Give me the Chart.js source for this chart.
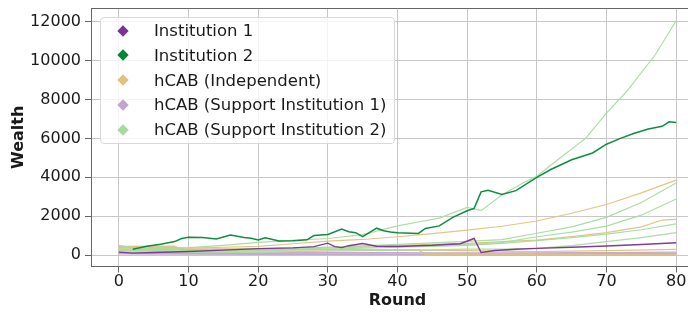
<!DOCTYPE html>
<html>
<head>
<meta charset="utf-8">
<script src="https://cdn.jsdelivr.net/npm/chart.js@4.4.0/dist/chart.umd.min.js"></script>
<style>
  html, body { margin: 0; padding: 0; background: #fff; }
  .wrap { position: relative; width: 688px; height: 312px; overflow: hidden; }
  .box { position: absolute; left: 0; top: 0; width: 720px; height: 312px; }
  .legend {
    position: absolute; left: 100px; top: 17px; width: 295px; height: 127px;
    margin: 0; padding: 0; list-style: none; box-sizing: border-box;
    border: 1px solid #d9d9d9; border-radius: 4px; background: rgba(255,255,255,0.8);
    font-family: "DejaVu Sans", sans-serif; font-size: 16.5px; color: #1a1a1a;
  }
  .legend li { position: absolute; left: 0; height: 20px; line-height: 20px; white-space: nowrap; }
  .legend .mark { position: absolute; left: 18px; top: 5.5px; width: 8px; height: 8px; transform: rotate(45deg); }
  .legend .txt { position: absolute; left: 53px; top: 0; }
</style>
</head>
<body>
<div class="wrap">
  <div class="box"><canvas id="chart" width="720" height="312"></canvas></div>
  <ul class="legend" id="legend"></ul>
</div>
<script>
const xTicks = [0, 10, 20, 30, 40, 50, 60, 70, 80];
const yTicks = [0, 2000, 4000, 6000, 8000, 10000, 12000];

const legendLabels = ['Institution 1', 'Institution 2', 'hCAB (Independent)', 'hCAB (Support Institution 1)', 'hCAB (Support Institution 2)'];
const legendColors = ['#7b3294', '#008837', '#dfc27d', '#c2a5cf', '#a6dba0'];

const inst1Rounds = [0, 2, 5, 10, 15, 20, 25, 28, 30, 31, 32, 33, 35, 37, 40, 45, 49, 51, 52, 54, 57, 60, 65, 70, 75, 80];
const inst1Wealth = [150, 100, 130, 180, 250, 330, 370, 430, 610, 430, 380, 480, 590, 450, 440, 500, 580, 850, 130, 230, 300, 343, 400, 463, 540, 630];

const inst2Rounds = [2, 4, 6, 8, 9, 10, 12, 14, 16, 18, 19, 20, 21, 23, 25, 27, 28, 30, 32, 33, 34, 35, 37, 38, 39, 40, 43, 44, 46, 48, 50, 51, 52, 53, 55, 57, 60, 62, 65, 68, 70, 72, 74, 76, 78, 79, 80];
const inst2Wealth = [300, 450, 560, 690, 850, 920, 900, 830, 1030, 900, 860, 780, 890, 720, 740, 780, 1000, 1060, 1340, 1200, 1150, 950, 1380, 1250, 1180, 1150, 1110, 1370, 1500, 1950, 2280, 2400, 3250, 3330, 3120, 3310, 3990, 4400, 4900, 5250, 5700, 6000, 6260, 6480, 6620, 6850, 6820];

const agentRounds = [0, 5, 10, 15, 20, 25, 30, 35, 40, 45, 50, 55, 60, 65, 70, 75, 80];

const indepRounds = [
  agentRounds,
  [0, 5, 10, 20, 30, 40, 50, 55, 60, 65, 70, 75, 78, 80],
  [0, 8, 9, 20, 30, 40, 50, 60, 70, 80],
  [0, 8, 9, 20, 30, 43, 44, 80]
];
const indepWealth = [
  [320, 330, 350, 400, 450, 580, 720, 800, 940, 1100, 1280, 1480, 1750, 2150, 2600, 3200, 3850],
  [250, 280, 300, 330, 400, 500, 600, 690, 770, 950, 1150, 1450, 1800, 1830],
  [450, 460, 300, 280, 260, 250, 230, 180, 230, 290],
  [380, 400, 250, 270, 280, 260, 20, 20]
];

const supp1Rounds = [agentRounds, [0, 20, 40, 60, 80], [0, 20, 40, 60, 80]];
const supp1Wealth = [
  [120, 130, 140, 150, 150, 140, 130, 120, 120, 110, 110, 110, 110, 120, 130, 140, 154],
  [80, 70, 60, 60, 86],
  [60, 30, 20, 10, 10]
];

const supp2Rounds = [
  [0, 3, 10, 15, 20, 25, 30, 35, 40, 43, 46, 50, 52, 55, 58, 60, 63, 67, 70, 73, 77, 80],
  agentRounds, agentRounds, agentRounds, agentRounds
];
const supp2Wealth = [
  [500, 300, 380, 500, 650, 750, 850, 1050, 1500, 1700, 1900, 2450, 2280, 3100, 3700, 4050, 4900, 6000, 7300, 8450, 10300, 12050],
  [300, 280, 250, 260, 300, 350, 400, 470, 550, 620, 700, 790, 1120, 1450, 1940, 2700, 3700],
  [250, 230, 200, 220, 250, 300, 350, 400, 450, 500, 550, 640, 940, 1180, 1490, 2050, 2880],
  [200, 200, 180, 200, 220, 260, 300, 350, 400, 450, 500, 600, 740, 900, 1080, 1300, 1600],
  [150, 150, 130, 140, 150, 180, 200, 220, 250, 270, 300, 300, 343, 480, 686, 900, 1150]
];

function toPoints(rounds, wealth) {
  return wealth.map((w, i) => ({ x: rounds[i], y: w }));
}

function lineSet(label, rounds, wealth, color, width) {
  return {
    label: label,
    data: toPoints(rounds, wealth),
    borderColor: color,
    borderWidth: width,
    pointRadius: 0,
    tension: 0,
    fill: false
  };
}

const datasets = [];
datasets.push(lineSet(legendLabels[1], inst2Rounds, inst2Wealth, 'rgba(0,136,55,0.95)', 1.5));
datasets.push(lineSet(legendLabels[0], inst1Rounds, inst1Wealth, 'rgba(123,50,148,0.95)', 1.4));
supp2Wealth.forEach((w, i) => datasets.push(lineSet(legendLabels[4], supp2Rounds[i], w, 'rgba(166,219,160,0.95)', 1.2)));
indepWealth.forEach((w, i) => datasets.push(lineSet(legendLabels[2], indepRounds[i], w, 'rgba(223,194,125,0.95)', 1.2)));
supp1Wealth.forEach((w, i) => datasets.push(lineSet(legendLabels[3], supp1Rounds[i], w, 'rgba(194,165,207,0.95)', 1.2)));

const topSpine = {
  id: 'topSpine',
  afterDraw(chart) {
    const { ctx, chartArea } = chart;
    ctx.save();
    ctx.strokeStyle = '#666';
    ctx.lineWidth = 1;
    ctx.beginPath();
    ctx.moveTo(chartArea.left, chartArea.top + 0.5);
    ctx.lineTo(chartArea.right, chartArea.top + 0.5);
    ctx.stroke();
    ctx.restore();
  }
};

const font = { family: '"DejaVu Sans", sans-serif', size: 16 };

const myChart = new Chart(document.getElementById('chart').getContext('2d'), {
  type: 'line',
  data: { datasets: datasets },
  plugins: [topSpine],
  options: {
    responsive: false,
    animation: false,
    devicePixelRatio: 1,
    layout: { padding: { top: 8, right: 16, bottom: 0, left: 0 } },
    plugins: { legend: { display: false }, tooltip: { enabled: false } },
    scales: {
      x: {
        type: 'linear',
        min: -4,
        max: 84,
        afterBuildTicks: (scale) => { scale.ticks = xTicks.map(v => ({ value: v })); },
        afterFit: (scale) => { scale.height = 45.5; scale.paddingLeft = 0; scale.paddingRight = 0; },
        ticks: { font: font, color: '#1a1a1a', padding: 0, maxRotation: 0, callback: (v) => String(v) },
        grid: { color: '#c8c8c8', lineWidth: 1, tickLength: 6, tickColor: '#666' },
        border: { color: '#666', width: 1 },
        title: { display: true, text: 'Round', font: { family: font.family, size: 16, weight: 'bold' }, color: '#1a1a1a', padding: { top: 0, bottom: 2 } }
      },
      y: {
        type: 'linear',
        min: -590,
        max: 12705,
        afterBuildTicks: (scale) => { scale.ticks = yTicks.map(v => ({ value: v })); },
        afterFit: (scale) => { scale.width = 91; scale.paddingTop = 0; scale.paddingBottom = 0; },
        ticks: { font: font, color: '#1a1a1a', padding: 4, callback: (v) => String(v) },
        grid: { color: '#c8c8c8', lineWidth: 1, tickLength: 6, tickColor: '#666' },
        border: { color: '#666', width: 1 },
        title: { display: true, text: 'Wealth', font: { family: font.family, size: 16, weight: 'bold' }, color: '#1a1a1a', padding: { top: 9, bottom: 0 } }
      }
    }
  }
});

const legendEl = document.getElementById('legend');
legendLabels.forEach((label, i) => {
  const li = document.createElement('li');
  li.style.top = (3 + i * 24.75) + 'px';
  li.innerHTML = `<span class="mark" style="background:${legendColors[i]}"></span><span class="txt">${label}</span>`;
  legendEl.appendChild(li);
});
</script>
</body>
</html>
